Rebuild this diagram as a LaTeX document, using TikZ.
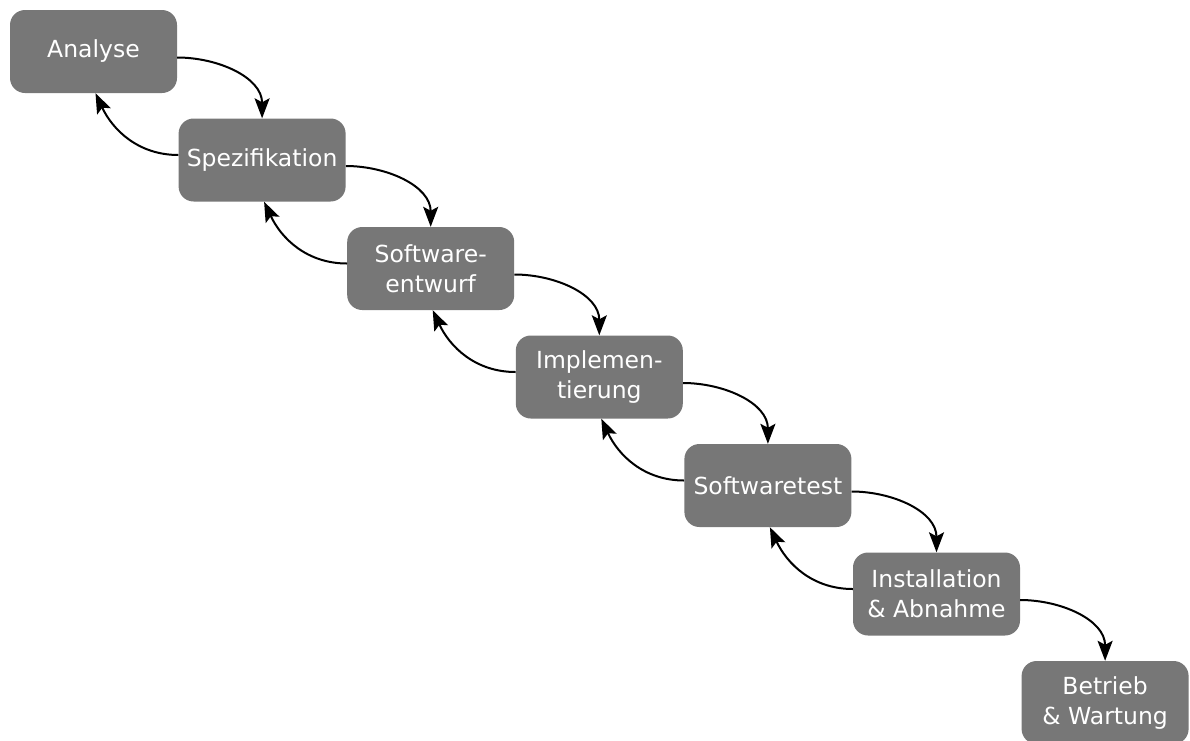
\documentclass[tikz,border=0pt]{standalone}
\usepackage{fontspec}
\setmainfont{DejaVu Sans}
\usetikzlibrary{arrows.meta}
\definecolor{boxgray}{HTML}{777777}
\tikzset{
  phase/.style={rectangle, rounded corners=15pt, fill=boxgray, text=white,
    minimum width=167pt, minimum height=83pt, inner sep=0pt, align=center,
    font=\fontsize{23.5pt}{30pt}\selectfont},
  bigtip/.tip={Stealth[length=20pt 0,width=15pt 0,inset=4pt 0]},
  flow/.style={line width=2pt, arrows={-bigtip}}
}
\begin{document}
\begin{tikzpicture}
\useasboundingbox (0pt,0pt) rectangle (1190pt,-740pt);
\node[phase] (p0) at (93.5pt,-51.5pt) {Analyse};
\node[phase] (p1) at (262.1pt,-160pt) {Spezifikation};
\node[phase] (p2) at (430.7pt,-268.5pt) {Software-\\entwurf};
\node[phase] (p3) at (599.3pt,-377pt) {Implemen-\\tierung};
\node[phase] (p4) at (767.9pt,-485.5pt) {Softwaretest};
\node[phase] (p5) at (936.5pt,-594pt) {Installation\\\& Abnahme};
\node[phase] (p6) at (1105.1pt,-702.5pt) {Betrieb\\\& Wartung};
\foreach \a/\b in {p0/p1,p1/p2,p2/p3,p3/p4,p4/p5,p5/p6}{
  \draw[flow] ([yshift=-6pt]\a.east) to[out=0,in=90] (\b.north);
}
\foreach \a/\b in {p0/p1,p1/p2,p2/p3,p3/p4,p4/p5}{
  \draw[flow] ([yshift=5pt]\b.west) to[out=180,in=-65] ([xshift=2pt]\a.south);
}
\end{tikzpicture}
\end{document}
